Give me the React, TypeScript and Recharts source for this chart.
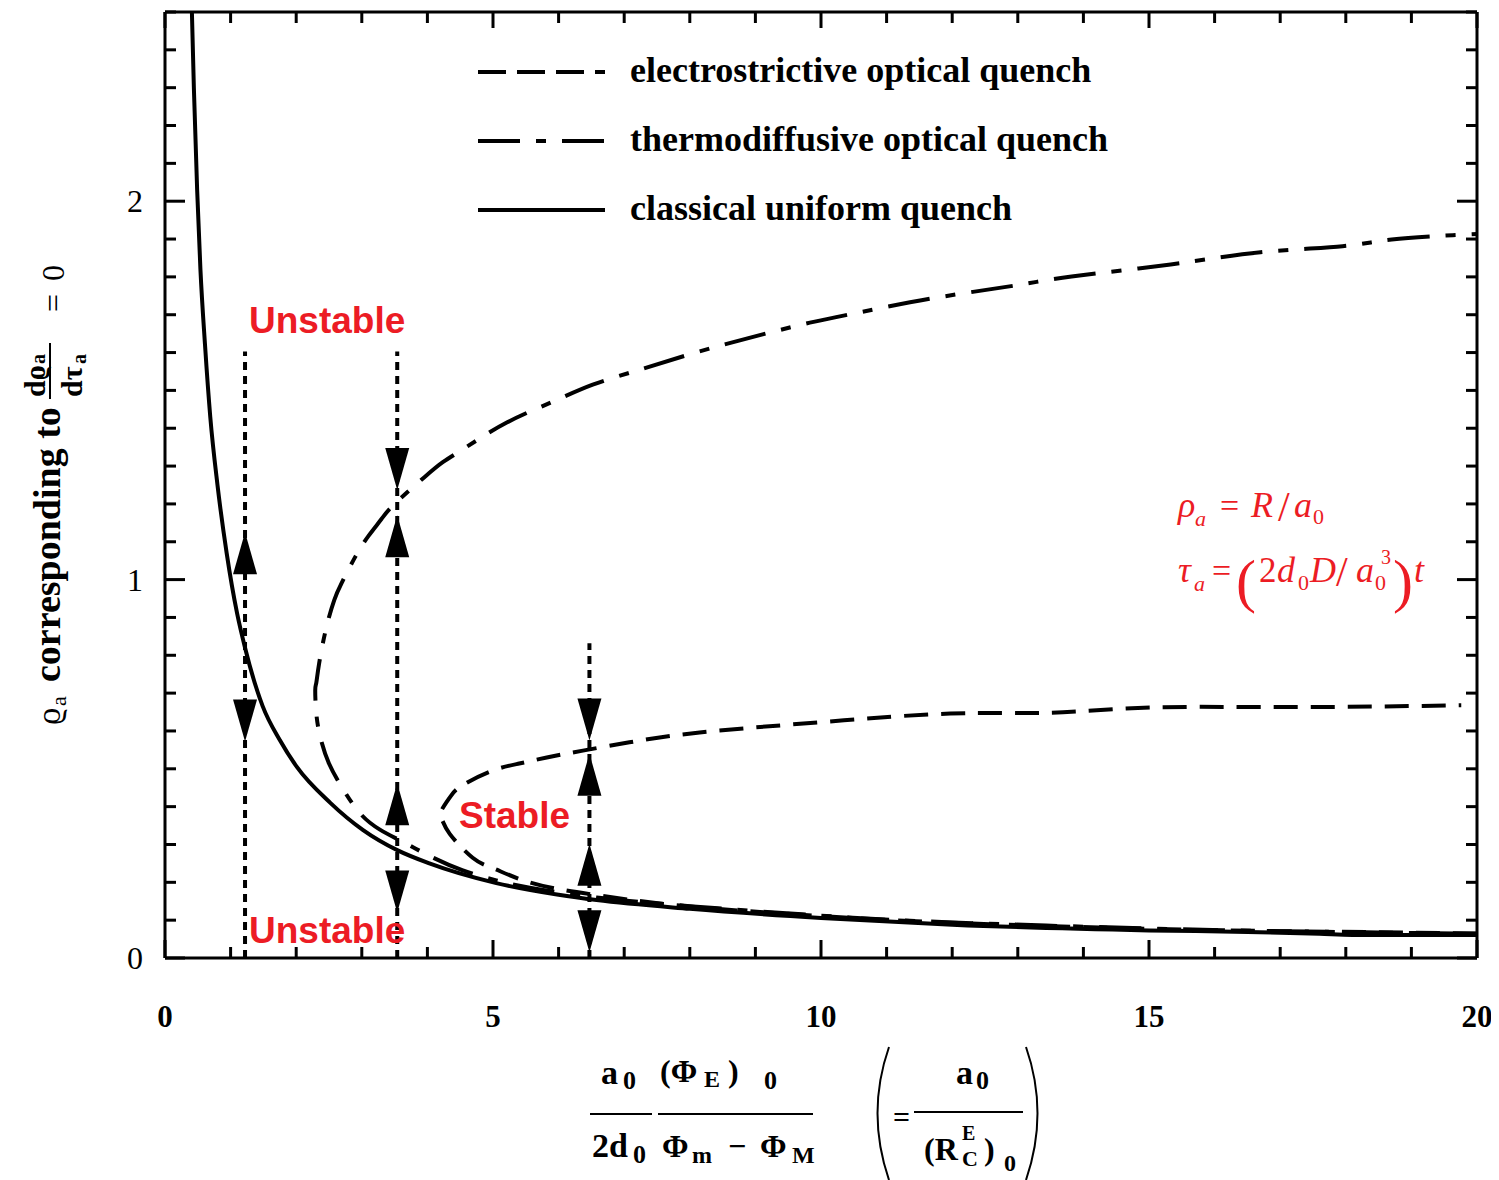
import React from "react"
import { ComposedChart, Line, Scatter, XAxis, YAxis, ReferenceLine, Legend } from "recharts"

const W = 1491
const H = 1172
const SERIF = "'Liberation Serif', 'Times New Roman', serif"
const SANS = "'Liberation Sans', Arial, sans-serif"
const RED = "#ec1c24"

// classical uniform quench
const CLASSICAL_X = [0.41, 0.44, 0.49, 0.54, 0.61, 0.69, 0.8, 0.94, 1.1, 1.22, 1.49, 1.75, 2.01, 2.52, 3.02, 3.54, 4.03, 5.05, 6.0, 6.58, 8, 10, 12, 15, 16.5, 17.6, 18.1, 20]
const CLASSICAL_Y = [2.5, 2.3, 2.03, 1.82, 1.62, 1.43, 1.25, 1.07, 0.91, 0.82, 0.665, 0.576, 0.505, 0.41, 0.338, 0.285, 0.25, 0.198, 0.167, 0.153, 0.13, 0.106, 0.088, 0.073, 0.069, 0.064, 0.061, 0.061]

// electrostrictive optical quench: lower branch right->left, then upper branch left->right
const ELECTRO_X = [20, 17, 15, 12, 10, 8, 6.63, 5.91, 5.4, 4.99, 4.69, 4.34, 4.23, 4.2, 4.34, 4.53, 4.99, 5.4, 5.82, 6.37, 7.08, 8.15, 9.98, 11.97, 13.5, 15.02, 17.3, 19.76]
const ELECTRO_Y = [0.065, 0.071, 0.077, 0.093, 0.111, 0.136, 0.165, 0.185, 0.209, 0.238, 0.265, 0.328, 0.363, 0.384, 0.424, 0.456, 0.495, 0.514, 0.53, 0.548, 0.57, 0.596, 0.623, 0.646, 0.648, 0.662, 0.663, 0.668]

// thermodiffusive optical quench
const THERMO_X = [20, 17, 15, 12, 10, 8, 6.58, 5.56, 5.05, 4.53, 4.03, 3.68, 3.27, 2.96, 2.7, 2.5, 2.38, 2.31, 2.29, 2.305, 2.35, 2.46, 2.58, 2.69, 2.9, 3.1, 3.3, 3.5, 3.95, 4.24, 4.6, 5.21, 5.91, 6.52, 7.24, 8.15, 9.11, 9.83, 10.44, 11.69, 12.95, 13.82, 15.33, 16.7, 17.95, 18.7, 19.63, 20]
const THERMO_Y = [0.064, 0.071, 0.078, 0.094, 0.112, 0.137, 0.16, 0.186, 0.205, 0.232, 0.27, 0.302, 0.34, 0.385, 0.45, 0.514, 0.575, 0.64, 0.707, 0.726, 0.779, 0.874, 0.946, 0.99, 1.06, 1.115, 1.16, 1.2, 1.27, 1.311, 1.351, 1.415, 1.47, 1.515, 1.555, 1.603, 1.648, 1.679, 1.701, 1.743, 1.777, 1.801, 1.833, 1.865, 1.881, 1.899, 1.91, 1.913]

const X_TICKS = [0, 1, 2, 3, 4, 5, 6, 7, 8, 9, 10, 11, 12, 13, 14, 15, 16, 17, 18, 19, 20]
const Y_TICKS = [0, 0.1, 0.2, 0.3, 0.4, 0.5, 0.6, 0.7, 0.8, 0.9, 1, 1.1, 1.2, 1.3, 1.4, 1.5, 1.6, 1.7, 1.8, 1.9, 2, 2.1, 2.2, 2.3, 2.4, 2.5]

// dotted stability markers and their arrow tips
const MARKER_X = [1.22, 3.54, 6.47]
const MARKER_TOP = [1.603, 1.603, 0.832]
const HEAD_X = [1.22, 1.22, 3.54, 3.54, 3.54, 3.54, 6.47, 6.47, 6.47, 6.47]
const HEAD_Y = [1.125, 0.572, 1.237, 1.17, 0.462, 0.12, 0.575, 0.54, 0.302, 0.015]
const HEAD_DIR = ["up", "down", "down", "up", "up", "down", "down", "up", "up", "down"]

const zip = (xs: number[], ys: number[]) => xs.map((x, i) => ({ x, y: ys[i] }))

const SERIES = [
  { name: "electrostrictive optical quench", data: zip(ELECTRO_X, ELECTRO_Y), curve: "natural", dash: "24 13", legendDash: "28 11" },
  { name: "thermodiffusive optical quench", data: zip(THERMO_X, THERMO_Y), curve: "natural", dash: "42 16 10 16", legendDash: "42 16 10 16" },
  { name: "classical uniform quench", data: zip(CLASSICAL_X, CLASSICAL_Y), curve: "monotone", dash: undefined, legendDash: undefined },
]

const HEADS = HEAD_X.map((x, i) => ({ x, y: HEAD_Y[i], dir: HEAD_DIR[i] }))

const isMajor = (v: number, step: number) => Math.abs(v / step - Math.round(v / step)) < 1e-6

const BottomTick = ({ x, y, payload }: any) => {
  const major = isMajor(payload.value, 5)
  return (
    <g>
      <line x1={x} x2={x} y1={y} y2={y - (major ? 18 : 11)} stroke="#000" strokeWidth={3} />
      {major && (
        <text x={x} y={y + 69} textAnchor="middle" fontFamily={SERIF} fontWeight="bold" fontSize={31}>
          {payload.value}
        </text>
      )}
    </g>
  )
}

const TopTick = ({ x, y, payload }: any) => {
  const major = isMajor(payload.value, 5)
  return <line x1={x} x2={x} y1={y} y2={y + (major ? 16 : 11)} stroke="#000" strokeWidth={3} />
}

const LeftTick = ({ x, y, payload }: any) => {
  const major = isMajor(payload.value, 1)
  return (
    <g>
      <line x1={x} x2={x + (major ? 20 : 11)} y1={y} y2={y} stroke="#000" strokeWidth={3} />
      {major && (
        <text x={x - 22} y={y + 11} textAnchor="end" fontFamily={SERIF} fontSize={32}>
          {Math.round(payload.value)}
        </text>
      )}
    </g>
  )
}

const RightTick = ({ x, y, payload }: any) => {
  const major = isMajor(payload.value, 1)
  return <line x1={x} x2={x - (major ? 20 : 11)} y1={y} y2={y} stroke="#000" strokeWidth={3} />
}

const ArrowHead = ({ cx, cy, payload }: any) => {
  const s = payload.dir === "up" ? 1 : -1
  return <polygon points={`${cx},${cy} ${cx - 12},${cy + s * 42} ${cx + 12},${cy + s * 42}`} fill="#000" />
}

const LegendBox = () => (
  <svg width={700} height={200}>
    {SERIES.map((s, i) => (
      <g key={s.name}>
        <line x1={8} x2={135} y1={32 + i * 69} y2={32 + i * 69} stroke="#000" strokeWidth={4} strokeDasharray={s.legendDash} />
        <text x={160} y={42 + i * 69} fontFamily={SERIF} fontWeight="bold" fontSize={36}>
          {s.name}
        </text>
      </g>
    ))}
  </svg>
)

const Overlay = () => (
  <svg width={1499} height={1180} style={{ position: "absolute", left: -8, top: -8, pointerEvents: "none" }}>
    <g fontFamily={SANS} fontWeight="bold" fontSize={37} fill={RED}>
      <text x={249} y={333}>Unstable</text>
      <text x={249} y={943}>Unstable</text>
      <text x={459} y={828}>Stable</text>
    </g>

    <g fontFamily={SERIF} fill={RED} fontStyle="italic">
      <text x={1178} y={517} fontSize={36}>ρ</text>
      <text x={1195} y={526} fontSize={22}>a</text>
      <text x={1220} y={517} fontSize={34} fontStyle="normal">=</text>
      <text x={1251} y={517} fontSize={36}>R</text>
      <text x={1278} y={521} fontSize={42} fontStyle="normal">/</text>
      <text x={1294} y={517} fontSize={36}>a</text>
      <text x={1313} y={524} fontSize={22} fontStyle="normal">0</text>

      <text x={1178} y={582} fontSize={36}>τ</text>
      <text x={1194} y={591} fontSize={22}>a</text>
      <text x={1212} y={582} fontSize={34} fontStyle="normal">=</text>
      <text x={1236} y={601} fontSize={60} fontStyle="normal">(</text>
      <text x={1259} y={582} fontSize={35} fontStyle="normal">2</text>
      <text x={1277} y={582} fontSize={36}>d</text>
      <text x={1298} y={590} fontSize={22} fontStyle="normal">0</text>
      <text x={1310} y={582} fontSize={36}>D</text>
      <text x={1336} y={586} fontSize={42} fontStyle="normal">/</text>
      <text x={1356} y={582} fontSize={36}>a</text>
      <text x={1375} y={590} fontSize={22} fontStyle="normal">0</text>
      <text x={1381} y={564} fontSize={20} fontStyle="normal">3</text>
      <text x={1393} y={601} fontSize={60} fontStyle="normal">)</text>
      <text x={1414} y={582} fontSize={36}>t</text>
    </g>

    <g fontFamily={SERIF} fontWeight="bold" fill="#000">
      <text x={601} y={1084} fontSize={34}>a</text>
      <text x={623} y={1089} fontSize={26}>0</text>
      <line x1={590} x2={652} y1={1114} y2={1114} stroke="#000" strokeWidth={2} />
      <text x={592} y={1157} fontSize={34}>2d</text>
      <text x={633} y={1163} fontSize={26}>0</text>

      <text x={660} y={1082} fontSize={32}>(Φ</text>
      <text x={704} y={1087} fontSize={24}>E</text>
      <text x={728} y={1082} fontSize={32}>)</text>
      <text x={764} y={1089} fontSize={26}>0</text>
      <line x1={658} x2={813} y1={1114} y2={1114} stroke="#000" strokeWidth={2} />
      <text x={662} y={1157} fontSize={32}>Φ</text>
      <text x={692} y={1163} fontSize={24}>m</text>
      <text x={728} y={1157} fontSize={32}>−</text>
      <text x={760} y={1157} fontSize={32}>Φ</text>
      <text x={792} y={1163} fontSize={24}>M</text>

      <path d="M 889 1047 Q 866 1113 889 1180" fill="none" stroke="#000" strokeWidth={2} />
      <text x={893} y={1127} fontSize={30}>=</text>
      <text x={956} y={1084} fontSize={34}>a</text>
      <text x={976} y={1089} fontSize={26}>0</text>
      <line x1={914} x2={1023} y1={1112} y2={1112} stroke="#000" strokeWidth={2} />
      <text x={924} y={1160} fontSize={32}>(R</text>
      <text x={962} y={1140} fontSize={20}>E</text>
      <text x={962} y={1166} fontSize={22}>C</text>
      <text x={984} y={1160} fontSize={32}>)</text>
      <text x={1004} y={1171} fontSize={24}>0</text>
      <path d="M 1026 1047 Q 1049 1113 1026 1180" fill="none" stroke="#000" strokeWidth={2} />
    </g>

    <g transform="translate(60, 725) rotate(-90)" fontFamily={SERIF} fill="#000">
      <text x={0} y={0} fontSize={34}>ϱ</text>
      <text x={19} y={6} fontSize={22}>a</text>
      <text x={43} y={0} fontSize={38} fontWeight="bold">corresponding to</text>
      <text x={328} y={-15} fontSize={30} fontWeight="bold">dϱ</text>
      <text x={361} y={-15} fontSize={20} fontWeight="bold">a</text>
      <line x1={326} x2={382} y1={-10} y2={-10} stroke="#000" strokeWidth={2} />
      <text x={328} y={22} fontSize={30} fontWeight="bold">dτ</text>
      <text x={361} y={26} fontSize={20} fontWeight="bold">a</text>
      <text x={413} y={4} fontSize={32}>=</text>
      <text x={444} y={4} fontSize={32}>0</text>
    </g>
  </svg>
)

export default function App() {
  return (
    <div style={{ position: "relative", width: W, height: H }}>
      <ComposedChart width={W} height={H} margin={{ top: 2, right: 20, bottom: 162, left: 97 }}>
        <XAxis
          xAxisId="bottom"
          dataKey="x"
          type="number"
          domain={[0, 20]}
          ticks={X_TICKS}
          interval={0}
          allowDataOverflow
          height={60}
          tickSize={0}
          tickMargin={0}
          tickLine={false}
          axisLine={{ stroke: "#000", strokeWidth: 3 }}
          tick={<BottomTick />}
        />
        <XAxis
          xAxisId="top"
          orientation="top"
          dataKey="x"
          type="number"
          domain={[0, 20]}
          ticks={X_TICKS}
          interval={0}
          allowDataOverflow
          height={2}
          tickSize={0}
          tickMargin={0}
          tickLine={false}
          axisLine={{ stroke: "#000", strokeWidth: 3 }}
          tick={<TopTick />}
        />
        <YAxis
          yAxisId="left"
          type="number"
          domain={[0, 2.5]}
          ticks={Y_TICKS}
          interval={0}
          allowDataOverflow
          width={60}
          tickSize={0}
          tickMargin={0}
          tickLine={false}
          axisLine={{ stroke: "#000", strokeWidth: 3 }}
          tick={<LeftTick />}
        />
        <YAxis
          yAxisId="right"
          orientation="right"
          type="number"
          domain={[0, 2.5]}
          ticks={Y_TICKS}
          interval={0}
          allowDataOverflow
          width={2}
          tickSize={0}
          tickMargin={0}
          tickLine={false}
          axisLine={{ stroke: "#000", strokeWidth: 3 }}
          tick={<RightTick />}
        />

        {MARKER_X.map((x, i) => (
          <ReferenceLine
            key={x}
            xAxisId="bottom"
            yAxisId="left"
            segment={[{ x, y: 0 }, { x, y: MARKER_TOP[i] }]}
            stroke="#000"
            strokeWidth={4}
            strokeDasharray="8 6"
          />
        ))}

        {SERIES.map((s) => (
          <Line
            key={s.name}
            xAxisId="bottom"
            yAxisId="left"
            data={s.data}
            dataKey="y"
            name={s.name}
            type={s.curve as any}
            stroke="#000"
            strokeWidth={4}
            strokeDasharray={s.dash}
            dot={false}
            activeDot={false}
            isAnimationActive={false}
          />
        ))}

        <Scatter
          xAxisId="bottom"
          yAxisId="left"
          data={HEADS}
          dataKey="y"
          shape={<ArrowHead />}
          legendType="none"
          isAnimationActive={false}
        />

        <Legend
          layout="horizontal"
          verticalAlign="middle"
          align="center"
          content={() => <LegendBox />}
          wrapperStyle={{ position: "absolute", left: 462, top: 32, width: 700, height: 200 }}
        />
      </ComposedChart>
      <Overlay />
    </div>
  )
}
